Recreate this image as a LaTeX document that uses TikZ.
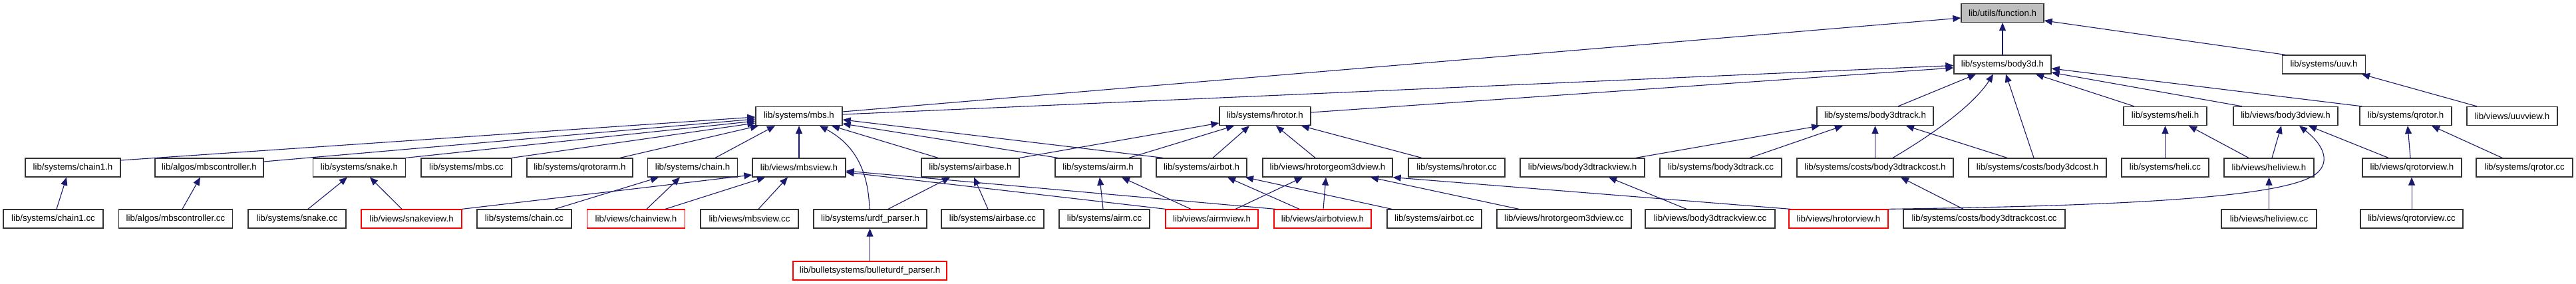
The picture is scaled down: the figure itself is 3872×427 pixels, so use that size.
\documentclass[tikz,border=0pt]{standalone}
\usepackage{fontspec}
\usetikzlibrary{arrows.meta}
\newfontfamily\boxfont{Liberation Sans}
\definecolor{mblue}{HTML}{191970}
\definecolor{boxgray}{HTML}{BFBFBF}
\tikzset{
  box/.style={draw=black!80, line width=1.3pt, fill=white, minimum height=28pt,
    inner sep=0pt, font={\boxfont\fontsize{13.3}{15}\selectfont}},
  redbox/.style={box, draw=red},
  dep/.style={draw=mblue, line width=1.1pt, -{Triangle[length=12pt,width=10pt]}}
}
\begin{document}
\begin{tikzpicture}[x=1pt,y=-1pt]
\fill[white] (0,0) rectangle (3872,427);
\useasboundingbox (0,0) rectangle (3872,427);
% row 0
\node[box, fill=boxgray, minimum width=124pt] (func) at (3010,19.5) {lib/utils/function.h};
% row 1
\node[box, minimum width=146pt] (body3d) at (3010,97) {lib/systems/body3d.h};
\node[box, minimum width=125pt] (uuv) at (3493,97) {lib/systems/uuv.h};
% row 2
\node[box, minimum width=130pt] (mbs) at (1201,174.5) {lib/systems/mbs.h};
\node[box, minimum width=137pt] (hrotor) at (1901.5,174.5) {lib/systems/hrotor.h};
\node[box, minimum width=175pt] (b3dtrack) at (2818.5,174.5) {lib/systems/body3dtrack.h};
\node[box, minimum width=125pt] (heli) at (3254.5,174.5) {lib/systems/heli.h};
\node[box, minimum width=157pt] (b3dview) at (3435.5,174.5) {lib/views/body3dview.h};
\node[box, minimum width=138pt] (qrotor) at (3616,174.5) {lib/systems/qrotor.h};
\node[box, minimum width=136pt] (uuvview) at (3776,174.5) {lib/views/uuvview.h};
% row 3
\node[box, minimum width=143pt] (chain1h) at (109.5,252) {lib/systems/chain1.h};
\node[box, minimum width=163pt] (mbsctrlh) at (314.5,252) {lib/algos/mbscontroller.h};
\node[box, minimum width=139pt] (snakeh) at (540,252) {lib/systems/snake.h};
\node[box, minimum width=136pt] (mbscc) at (701,252) {lib/systems/mbs.cc};
\node[box, minimum width=159pt] (qrotorarm) at (871.5,252) {lib/systems/qrotorarm.h};
\node[box, minimum width=135pt] (chainh) at (1041,252) {lib/systems/chain.h};
\node[box, minimum width=140pt] (mbsview) at (1201,252) {lib/views/mbsview.h};
\node[box, minimum width=147pt] (airbase) at (1458.5,252) {lib/systems/airbase.h};
\node[box, minimum width=129pt] (airm) at (1650.5,252) {lib/systems/airm.h};
\node[box, minimum width=136pt] (airbot) at (1806,252) {lib/systems/airbot.h};
\node[box, minimum width=195pt] (hrgeom) at (1995.5,252) {lib/views/hrotorgeom3dview.h};
\node[box, minimum width=145pt] (hrotorcc) at (2189.5,252) {lib/systems/hrotor.cc};
\node[box, minimum width=187pt] (b3dtrackview) at (2378.5,252) {lib/views/body3dtrackview.h};
\node[box, minimum width=183pt] (b3dtrackcc) at (2586.5,252) {lib/systems/body3dtrack.cc};
\node[box, minimum width=235pt] (b3dtrackcost) at (2818.5,252) {lib/systems/costs/body3dtrackcost.h};
\node[box, minimum width=207pt] (b3dcost) at (3062.5,252) {lib/systems/costs/body3dcost.h};
\node[box, minimum width=131pt] (helicc) at (3254.5,252) {lib/systems/heli.cc};
\node[box, minimum width=135pt] (heliview) at (3410.5,252) {lib/views/heliview.h};
\node[box, minimum width=149pt] (qrotorview) at (3625.5,252) {lib/views/qrotorview.h};
\node[box, minimum width=145pt] (qrotorcc) at (3794.5,252) {lib/systems/qrotor.cc};
% row 4
\node[box, minimum width=150pt] (chain1cc) at (80,329) {lib/systems/chain1.cc};
\node[box, minimum width=171pt] (mbsctrlcc) at (264,329) {lib/algos/mbscontroller.cc};
\node[box, minimum width=147pt] (snakecc) at (446.5,329) {lib/systems/snake.cc};
\node[redbox, minimum width=151pt] (snakeview) at (618.5,329) {lib/views/snakeview.h};
\node[box, minimum width=142pt] (chaincc) at (788,329) {lib/systems/chain.cc};
\node[redbox, minimum width=147pt] (chainview) at (956,329) {lib/views/chainview.h};
\node[box, minimum width=147pt] (mbsviewcc) at (1126.5,329) {lib/views/mbsview.cc};
\node[box, minimum width=170pt] (urdf) at (1308,329) {lib/systems/urdf\_parser.h};
\node[box, minimum width=154pt] (airbasecc) at (1492,329) {lib/systems/airbase.cc};
\node[box, minimum width=136pt] (airmcc) at (1660,329) {lib/systems/airm.cc};
\node[redbox, minimum width=139pt] (airmview) at (1821.5,329) {lib/views/airmview.h};
\node[redbox, minimum width=146pt] (airbotview) at (1988,329) {lib/views/airbotview.h};
\node[box, minimum width=142pt] (airbotcc) at (2156,329) {lib/systems/airbot.cc};
\node[box, minimum width=202pt] (hrgeomcc) at (2351,329) {lib/views/hrotorgeom3dview.cc};
\node[box, minimum width=195pt] (b3dtrackviewcc) at (2570.5,329) {lib/views/body3dtrackview.cc};
\node[redbox, minimum width=149pt] (hrotorview) at (2763.5,329) {lib/views/hrotorview.h};
\node[box, minimum width=243pt] (b3dtrackcostcc) at (2982.5,329) {lib/systems/costs/body3dtrackcost.cc};
\node[box, minimum width=143pt] (heliviewcc) at (3410.5,329) {lib/views/heliview.cc};
\node[box, minimum width=154pt] (qrotorviewcc) at (3625,329) {lib/views/qrotorview.cc};
% row 5
\node[redbox, minimum width=231pt] (bullet) at (1307.5,407) {lib/bulletsystems/bulleturdf\_parser.h};

% edges to function.h
\draw[dep] (body3d.north) -- (func.south);
\draw[dep] (3435,0 |- uuv.north) -- (func.east |- 0,31);
\draw[dep] (mbs.east |- 0,168) -- (func.west |- 0,27);
% edges to body3d.h
\draw[dep] (mbs.east |- 0,172) -- (body3d.west |- 0,98.5);
\draw[dep] (hrotor.east |- 0,169) -- (body3d.west |- 0,102);
\draw[dep] (2853,0 |- b3dtrack.north) -- (2970,0 |- body3d.south);
\draw[dep] (2845,0 |- b3dtrackcost.north) .. controls (2900,205) and (2965,160) .. (2996,0 |- body3d.south);
\draw[dep] (3057,0 |- b3dcost.north) -- (3015,0 |- body3d.south);
\draw[dep] (3208,0 |- heli.north) -- (3060,0 |- body3d.south);
\draw[dep] (3370,0 |- b3dview.north) -- (body3d.east |- 0,109);
\draw[dep] (3550,0 |- qrotor.north) -- (body3d.east |- 0,103);
\draw[dep] (3723,0 |- uuvview.north) -- (3550,0 |- uuv.south);
% edges to mbs.h
\draw[dep] (chain1h.east |- 0,241) -- (mbs.west |- 0,176);
\draw[dep] (mbsctrlh.east |- 0,243) -- (mbs.west |- 0,179);
\draw[dep] (snakeh.north east) -- (mbs.west |- 0,182);
\draw[dep] (mbscc.north east) -- (mbs.west |- 0,185);
\draw[dep] (932,0 |- qrotorarm.north) -- (1140,0 |- mbs.south);
\draw[dep] (1075,0 |- chainh.north) -- (1165,0 |- mbs.south);
\draw[dep] (mbsview.north) -- (mbs.south);
\draw[dep] (1307,0 |- urdf.north) .. controls (1305,250) and (1280,215) .. (1232,0 |- mbs.south);
\draw[dep] (1410,0 |- airbase.north) -- (1250,0 |- mbs.south);
\draw[dep] (1590,0 |- airm.north) -- (mbs.east |- 0,186);
\draw[dep] (1748,0 |- airbot.north) -- (mbs.east |- 0,180);
% edges to hrotor.h
\draw[dep] (airbase.north east) -- (hrotor.west |- 0,185);
\draw[dep] (1697,0 |- airm.north) -- (1855,0 |- hrotor.south);
\draw[dep] (1823,0 |- airbot.north) -- (1878,0 |- hrotor.south);
\draw[dep] (1977,0 |- hrgeom.north) -- (1918,0 |- hrotor.south);
\draw[dep] (2137,0 |- hrotorcc.north) -- (1956,0 |- hrotor.south);
% edges to body3dtrack.h
\draw[dep] (2459,0 |- b3dtrackview.north) -- (2735,0 |- b3dtrack.south);
\draw[dep] (2630,0 |- b3dtrackcc.north) -- (2770,0 |- b3dtrack.south);
\draw[dep] (b3dtrackcost.north) -- (b3dtrack.south);
\draw[dep] (3017,0 |- b3dcost.north) -- (2865,0 |- b3dtrack.south);
% heli.h, body3dview.h, qrotor.h
\draw[dep] (helicc.north) -- (heli.south);
\draw[dep] (3380,0 |- heliview.north) -- (3290,0 |- heli.south);
\draw[dep] (3415,0 |- heliview.north) -- (3429,0 |- b3dview.south);
\draw[dep] (hrotorview.north east) .. controls (3150,310) and (3400,300) .. (3470,268)
  .. controls (3505,252) and (3498,222) .. (3456,0 |- b3dview.south);
\draw[dep] (3590,0 |- qrotorview.north) -- (3470,0 |- b3dview.south);
\draw[dep] (3623,0 |- qrotorview.north) -- (3619,0 |- qrotor.south);
\draw[dep] (3761,0 |- qrotorcc.north) -- (3655,0 |- qrotor.south);
% row 4 -> row 3
\draw[dep] (85,0 |- chain1cc.north) -- (100,0 |- chain1h.south);
\draw[dep] (274,0 |- mbsctrlcc.north) -- (301,0 |- mbsctrlh.south);
\draw[dep] (463,0 |- snakecc.north) -- (522,0 |- snakeh.south);
\draw[dep] (604,0 |- snakeview.north) -- (556,0 |- snakeh.south);
\draw[dep] (snakeview.north east) -- (mbsview.west |- 0,263);
\draw[dep] (834,0 |- chaincc.north) -- (990,0 |- chainh.south);
\draw[dep] (972,0 |- chainview.north) -- (1022,0 |- chainh.south);
\draw[dep] (1000,0 |- chainview.north) -- (1150,0 |- mbsview.south);
\draw[dep] (1140,0 |- mbsviewcc.north) -- (1184,0 |- mbsview.south);
\draw[dep] (1752,0 |- airmview.north) -- (mbsview.east |- 0,259);
\draw[dep] (1917,0 |- airbotview.north) -- (mbsview.east |- 0,257);
\draw[dep] (1335,0 |- urdf.north) -- (1428,0 |- airbase.south);
\draw[dep] (1485,0 |- airbasecc.north) -- (1464,0 |- airbase.south);
\draw[dep] (1658,0 |- airmcc.north) -- (1653,0 |- airm.south);
\draw[dep] (1790,0 |- airmview.north) -- (1686,0 |- airm.south);
\draw[dep] (1857,0 |- airmview.north) -- (1958,0 |- hrgeom.south);
\draw[dep] (1953,0 |- airbotview.north) -- (1845,0 |- airbot.south);
\draw[dep] (2092,0 |- airbotcc.north) -- (1872,0 |- airbot.south);
\draw[dep] (1989,0 |- airbotview.north) -- (1993,0 |- hrgeom.south);
\draw[dep] (2283,0 |- hrgeomcc.north) -- (2060,0 |- hrgeom.south);
\draw[dep] (2691,0 |- hrotorview.north) -- (hrgeom.south east);
\draw[dep] (2535,0 |- b3dtrackviewcc.north) -- (2418,0 |- b3dtrackview.south);
\draw[dep] (2951,0 |- b3dtrackcostcc.north) -- (2857,0 |- b3dtrackcost.south);
\draw[dep] (heliviewcc.north) -- (heliview.south);
\draw[dep] (qrotorviewcc.north) -- (3625,0 |- qrotorview.south);
\draw[dep] (bullet.north) -- (1307.5,0 |- urdf.south);
\end{tikzpicture}
\end{document}
